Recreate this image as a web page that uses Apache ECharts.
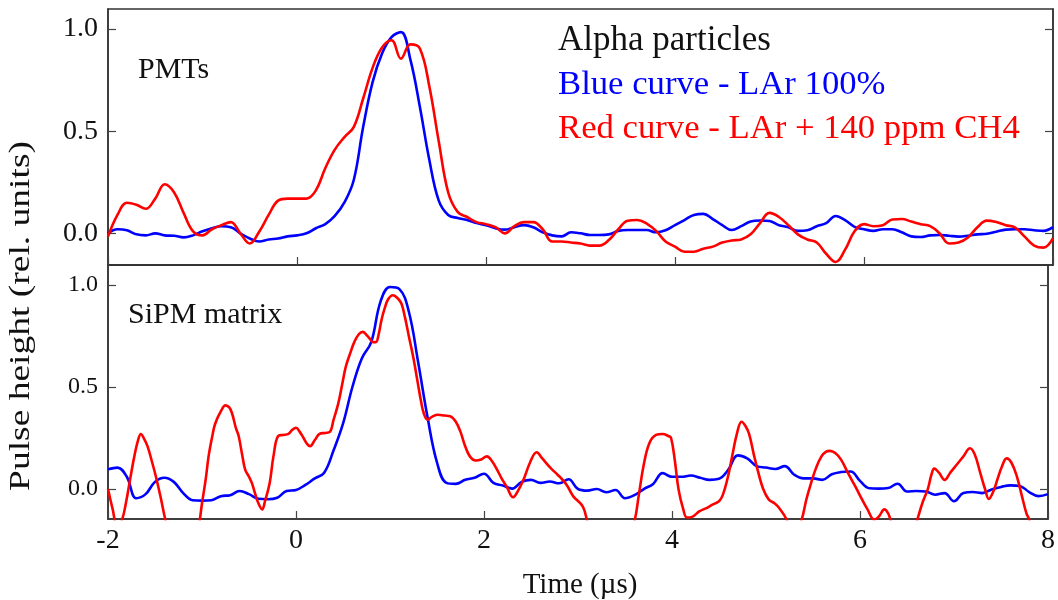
<!DOCTYPE html>
<html>
<head>
<meta charset="utf-8">
<script src="https://cdn.jsdelivr.net/npm/echarts@6/dist/echarts.min.js"></script>
<style>
  html, body { margin: 0; padding: 0; background: #fff; }
  #chart { width: 1058px; height: 600px; }
</style>
</head>
<body>
<div id="chart"></div>
<script>
// Time samples (µs) shared by the PMT traces and the SiPM LAr trace
const time = [
  -2.0, -1.9, -1.8, -1.7, -1.6, -1.5, -1.4, -1.3, -1.2, -1.1,
  -1.0, -0.9, -0.8, -0.7, -0.6, -0.5, -0.4, -0.3, -0.2, -0.1,
   0.0,  0.1,  0.2,  0.3,  0.4,  0.5,  0.6,  0.7,  0.8,  0.9,
   1.0,  1.1,  1.2,  1.3,  1.4,  1.5,  1.6,  1.7,  1.8,  1.9,
   2.0,  2.1,  2.2,  2.3,  2.4,  2.5,  2.6,  2.7,  2.8,  2.9,
   3.0,  3.1,  3.2,  3.3,  3.4,  3.5,  3.6,  3.7,  3.8,  3.9,
   4.0,  4.1,  4.2,  4.3,  4.4,  4.5,  4.6,  4.7,  4.8,  4.9,
   5.0,  5.1,  5.2,  5.3,  5.4,  5.5,  5.6,  5.7,  5.8,  5.9,
   6.0,  6.1,  6.2,  6.3,  6.4,  6.5,  6.6,  6.7,  6.8,  6.9,
   7.0,  7.1,  7.2,  7.3,  7.4,  7.5,  7.6,  7.7,  7.8,  7.9,
   8.0
];

// PMTs — LAr 100%
const pmtLAr = [
  0.000, 0.020, 0.015, -0.005, -0.010, 0.000, -0.010, -0.012, -0.020, -0.010,
  0.010, 0.025, 0.035, 0.030, 0.000, -0.025, -0.040, -0.030, -0.025, -0.015,
  -0.010, 0.000, 0.025, 0.045, 0.085, 0.150, 0.260, 0.520, 0.740, 0.880,
  0.960, 0.985, 0.850, 0.620, 0.360, 0.160, 0.090, 0.075, 0.065, 0.050,
  0.040, 0.025, 0.018, 0.030, 0.040, 0.030, 0.005, -0.010, -0.015, 0.005,
  0.000, -0.008, -0.008, -0.005, 0.012, 0.016, 0.016, 0.016, 0.005, 0.015,
  0.040, 0.065, 0.090, 0.095, 0.070, 0.040, 0.016, 0.035, 0.058, 0.063,
  0.060, 0.040, 0.030, 0.012, 0.015, 0.035, 0.050, 0.085, 0.065, 0.032,
  0.020, 0.012, 0.020, 0.020, 0.005, -0.015, -0.018, -0.010, -0.008, -0.012,
  -0.016, -0.012, -0.005, -0.002, 0.008, 0.018, 0.020, 0.020, 0.015, 0.012,
  0.030
];

// PMTs — LAr + 140 ppm CH4
const pmtCH4 = [
  -0.016, 0.090, 0.150, 0.140, 0.120, 0.170, 0.240, 0.200, 0.100, 0.010,
  -0.010, 0.020, 0.040, 0.055, 0.000, -0.050, 0.008, 0.090, 0.160, 0.170,
  0.170, 0.170, 0.210, 0.320, 0.410, 0.470, 0.520, 0.660, 0.810, 0.910,
  0.945, 0.855, 0.925, 0.905, 0.720, 0.450, 0.200, 0.105, 0.080, 0.055,
  0.045, 0.030, 0.000, 0.035, 0.055, 0.055, 0.020, -0.040, -0.040, -0.045,
  -0.050, -0.060, -0.060, -0.033, 0.020, 0.062, 0.065, 0.048, 0.012, -0.040,
  -0.065, -0.090, -0.090, -0.075, -0.065, -0.045, -0.035, -0.030, -0.005, 0.050,
  0.100, 0.080, 0.040, -0.005, -0.030, -0.045, -0.100, -0.140, -0.080, 0.010,
  0.045, 0.035, 0.040, 0.068, 0.070, 0.058, 0.045, 0.035, 0.000, -0.050,
  -0.045, -0.020, 0.030, 0.062, 0.055, 0.040, 0.028, -0.016, -0.060, -0.070,
  -0.024
];

// SiPM matrix — LAr 100%
const sipmLAr = [
  0.097, 0.105, 0.060, -0.045, -0.025, 0.035, 0.055, 0.035, -0.020, -0.055,
  -0.057, -0.055, -0.035, -0.030, -0.010, -0.025, -0.048, -0.050, -0.043, -0.010,
  -0.005, 0.020, 0.052, 0.080, 0.190, 0.320, 0.500, 0.640, 0.720, 0.920,
  0.990, 0.980, 0.870, 0.620, 0.350, 0.130, 0.030, 0.025, 0.045, 0.055,
  0.075, 0.030, 0.017, 0.002, 0.035, 0.045, 0.030, 0.037, 0.028, 0.048,
  0.000, -0.008, 0.000, -0.016, -0.005, -0.045, -0.030, 0.000, 0.025, 0.078,
  0.060, 0.060, 0.066, 0.055, 0.045, 0.050, 0.095, 0.165, 0.150, 0.112,
  0.105, 0.098, 0.112, 0.070, 0.052, 0.052, 0.045, 0.072, 0.083, 0.086,
  0.040, 0.004, 0.002, 0.005, 0.026, -0.012, -0.010, -0.012, -0.028, -0.020,
  -0.060, -0.020, -0.015, -0.020, -0.002, 0.010, 0.018, 0.015, -0.015, -0.035,
  -0.025
];

// SiPM matrix — LAr + 140 ppm CH4 (its own, denser time samples)
const sipmCH4Time = [
  -2.00, -1.95, -1.90, -1.85, -1.81, -1.76, -1.72, -1.68, -1.65, -1.62,
  -1.58, -1.53, -1.49, -1.44, -1.40, -1.30, -1.20, -1.10, -1.03, -1.00,
  -0.96, -0.93, -0.89, -0.86, -0.80, -0.75, -0.71, -0.68, -0.64, -0.61,
  -0.57, -0.54, -0.50, -0.47, -0.43, -0.40, -0.36, -0.33, -0.28, -0.24,
  -0.19, -0.14, -0.08, -0.04, 0.00, 0.04, 0.08, 0.12, 0.15, 0.20,
  0.25, 0.31, 0.36, 0.40, 0.45, 0.49, 0.53, 0.58, 0.62, 0.67,
  0.71, 0.75, 0.78, 0.82, 0.85, 0.88, 0.91, 0.94, 0.98, 1.03,
  1.07, 1.12, 1.16, 1.20, 1.25, 1.29, 1.33, 1.36, 1.40, 1.45,
  1.51, 1.58, 1.64, 1.70, 1.75, 1.80, 1.85, 1.91, 1.97, 2.03,
  2.08, 2.14, 2.19, 2.24, 2.31, 2.36, 2.42, 2.49, 2.56, 2.62,
  2.70, 2.76, 2.81, 2.88, 2.95, 3.05, 3.10, 3.20, 3.35, 3.50,
  3.60, 3.65, 3.70, 3.76, 3.83, 3.90, 3.96, 3.99, 4.03, 4.07,
  4.12, 4.16, 4.22, 4.29, 4.36, 4.43, 4.50, 4.54, 4.59, 4.64,
  4.69, 4.74, 4.78, 4.82, 4.87, 4.92, 4.97, 5.03, 5.09, 5.14,
  5.22, 5.30, 5.38, 5.43, 5.48, 5.53, 5.59, 5.64, 5.68, 5.74,
  5.80, 5.87, 5.95, 6.02, 6.08, 6.15, 6.20, 6.26, 6.30, 6.33,
  6.45, 6.55, 6.61, 6.67, 6.72, 6.76, 6.79, 6.84, 6.90, 6.96,
  7.03, 7.10, 7.17, 7.22, 7.28, 7.33, 7.37, 7.42, 7.46, 7.51,
  7.56, 7.61, 7.67, 7.72, 7.77, 7.80, 7.90, 8.00
];
const sipmCH4 = [
  0.000, -0.100, -0.190, -0.150, -0.070, 0.060, 0.160, 0.240, 0.270, 0.250,
  0.210, 0.130, 0.060, -0.040, -0.130, -0.330, -0.420, -0.330, -0.170, -0.070,
  0.050, 0.160, 0.260, 0.320, 0.380, 0.410, 0.400, 0.370, 0.300, 0.260,
  0.160, 0.094, 0.060, 0.030, -0.030, -0.070, -0.100, -0.060, 0.030, 0.160,
  0.260, 0.265, 0.270, 0.290, 0.300, 0.280, 0.250, 0.220, 0.210, 0.240,
  0.270, 0.275, 0.280, 0.340, 0.420, 0.510, 0.600, 0.670, 0.720, 0.760,
  0.770, 0.755, 0.740, 0.720, 0.720, 0.760, 0.830, 0.880, 0.930, 0.950,
  0.940, 0.910, 0.840, 0.750, 0.640, 0.535, 0.430, 0.370, 0.340, 0.355,
  0.364, 0.360, 0.357, 0.330, 0.280, 0.210, 0.160, 0.140, 0.145, 0.160,
  0.140, 0.094, 0.050, 0.013, -0.040, -0.010, 0.045, 0.130, 0.180, 0.150,
  0.107, 0.080, 0.058, 0.020, -0.036, -0.085, -0.160, -0.300, -0.400, -0.300,
  -0.160, -0.020, 0.120, 0.225, 0.265, 0.270, 0.260, 0.250, 0.140, -0.003,
  -0.100, -0.140, -0.135, -0.110, -0.095, -0.077, -0.060, -0.030, 0.050, 0.160,
  0.270, 0.330, 0.310, 0.270, 0.170, 0.078, 0.000, -0.052, -0.070, -0.093,
  -0.150, -0.250, -0.150, -0.050, 0.030, 0.100, 0.160, 0.183, 0.187, 0.175,
  0.143, 0.080, 0.013, -0.050, -0.100, -0.150, -0.135, -0.100, -0.120, -0.160,
  -0.350, -0.250, -0.150, -0.060, -0.003, 0.070, 0.100, 0.080, 0.045, 0.080,
  0.120, 0.160, 0.200, 0.170, 0.078, 0.000, -0.049, -0.010, 0.045, 0.110,
  0.150, 0.130, 0.060, -0.030, -0.118, -0.150, -0.300, -0.400
];

const xTicks = [-2, 0, 2, 4, 6, 8];
const yTicks = [0, 0.5, 1.0];

const pairs = (ts, vals) => ts.map((t, i) => [t, vals[i]]);

const FONT = '"Liberation Serif", "DejaVu Serif", serif';
const INK = '#111';
const BLUE = '#0000ff';
const RED = '#ff0000';

const chart = echarts.init(document.getElementById('chart'), null, { renderer: 'canvas' });

const gridTop = { left: 108, top: 9, width: 945, height: 256 };
const gridBottom = { left: 108, top: 265, width: 945, height: 254 };

function xAxisFor(gridIndex, showLabels) {
  return {
    type: 'value', gridIndex, min: xTicks[0], max: xTicks[xTicks.length - 1], interval: 2,
    axisLine: { show: true, onZero: false, lineStyle: { color: '#333', width: 1.5 } },
    axisTick: { show: true, inside: true, length: 8, lineStyle: { color: '#444', width: 1.2 } },
    axisLabel: {
      show: showLabels, margin: 8, fontFamily: FONT, fontSize: 28, color: INK,
      formatter: (v) => String(v)
    },
    splitLine: { show: false }
  };
}

function yAxisFor(gridIndex, min, max, side, labelSize) {
  return {
    type: 'value', gridIndex, min, max, position: side,
    axisLine: { show: true, onZero: false, lineStyle: { color: '#333', width: 1.5 } },
    axisTick: { show: true, inside: true, length: 8, customValues: yTicks, lineStyle: { color: '#444', width: 1.2 } },
    axisLabel: {
      show: side === 'left', margin: 10, fontFamily: FONT, fontSize: labelSize, color: INK,
      customValues: yTicks, formatter: (v) => v.toFixed(1)
    },
    splitLine: { show: false }
  };
}

function line(name, ts, vals, color, xi, yi) {
  return {
    name, type: 'line', xAxisIndex: xi, yAxisIndex: yi,
    data: pairs(ts, vals), smooth: 0.4, showSymbol: false, clip: true,
    lineStyle: { color, width: 2.6 }, itemStyle: { color },
    animation: false, silent: true
  };
}

const option = {
  backgroundColor: '#fff',
  animation: false,
  grid: [
    Object.assign({ show: true, borderColor: '#333', borderWidth: 1.5 }, gridTop),
    Object.assign({ show: true, borderColor: '#333', borderWidth: 1.5 }, gridBottom)
  ],
  xAxis: [xAxisFor(0, false), xAxisFor(1, true)],
  yAxis: [
    yAxisFor(0, -0.155, 1.098, 'left', 28),
    yAxisFor(0, -0.155, 1.098, 'right', 28),
    yAxisFor(1, -0.147, 1.098, 'left', 24),
    yAxisFor(1, -0.147, 1.098, 'right', 24)
  ],
  series: [
    line('PMTs LAr 100%', time, pmtLAr, BLUE, 0, 0),
    line('PMTs LAr + 140 ppm CH4', time, pmtCH4, RED, 0, 0),
    line('SiPM LAr 100%', time, sipmLAr, BLUE, 1, 2),
    line('SiPM LAr + 140 ppm CH4', sipmCH4Time, sipmCH4, RED, 1, 2)
  ],
  graphic: [
    { type: 'text', x: 138, y: 70, style: { text: 'PMTs', font: '30px ' + FONT, fill: INK, textVerticalAlign: 'middle' } },
    { type: 'text', x: 128, y: 315, style: { text: 'SiPM matrix', font: '30px ' + FONT, fill: INK, textVerticalAlign: 'middle' } },
    { type: 'text', x: 558, y: 40.5, style: { text: 'Alpha particles', font: '35px ' + FONT, fill: INK, textVerticalAlign: 'middle' } },
    { type: 'text', x: 558, y: 84.5, style: { text: 'Blue curve - LAr 100%', font: '34.7px ' + FONT, fill: BLUE, textVerticalAlign: 'middle' } },
    { type: 'text', x: 558, y: 128.5, style: { text: 'Red curve - LAr + 140 ppm CH4', font: '34.7px ' + FONT, fill: RED, textVerticalAlign: 'middle' } },
    { type: 'text', x: 580, y: 585.5, style: { text: 'Time (µs)', font: '29px ' + FONT, fill: INK, textAlign: 'center', textVerticalAlign: 'middle' } },
    { type: 'text', x: 21, y: 316, rotation: Math.PI / 2, scaleX: 1.25,
      style: { text: 'Pulse height (rel. units)', font: '30px ' + FONT, fill: INK, textAlign: 'center', textVerticalAlign: 'middle' } }
  ]
};

chart.setOption(option);
</script>
</body>
</html>
